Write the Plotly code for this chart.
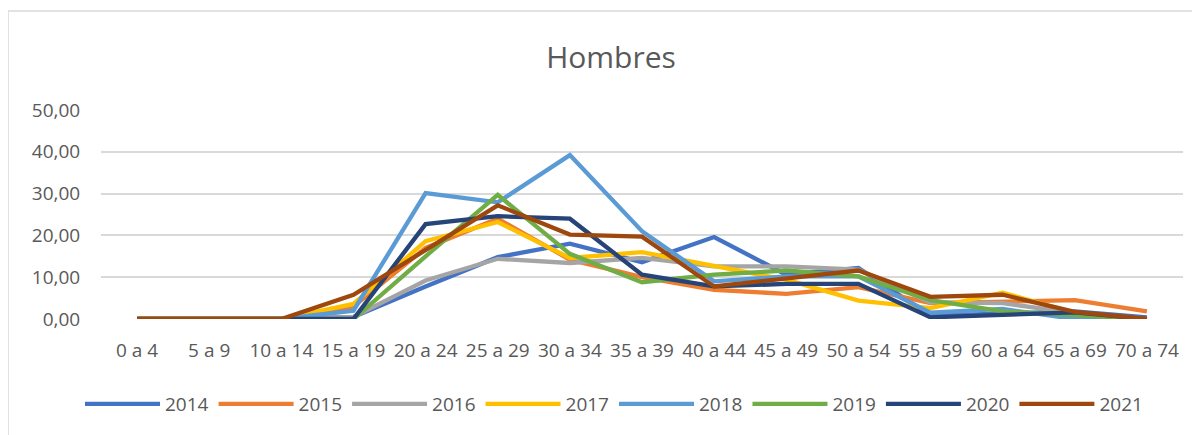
import plotly.graph_objects as go

categories = ["0 a 4", "5 a 9", "10 a 14", "15 a 19", "20 a 24", "25 a 29", "30 a 34",
              "35 a 39", "40 a 44", "45 a 49", "50 a 54", "55 a 59", "60 a 64",
              "65 a 69", "70 a 74"]

y2014 = [0, 0, 0, 0.5, 7.8, 14.8, 18.0, 13.6, 19.6, 10.6, 12.2, 0.8, 1.4, 1.8, 0.4]
y2015 = [0, 0, 0, 3.0, 17.0, 24.0, 14.2, 10.0, 7.0, 6.0, 7.6, 3.8, 4.2, 4.5, 1.8]
y2016 = [0, 0, 0, 0.5, 9.2, 14.4, 13.4, 14.6, 12.6, 12.6, 11.8, 4.0, 3.8, 1.4, 0]
y2017 = [0, 0, 0, 3.6, 18.6, 23.2, 14.6, 16.0, 12.8, 9.4, 4.4, 2.6, 6.3, 1.5, 0]
y2018 = [0, 0, 0, 2.0, 30.1, 27.9, 39.2, 21.0, 9.0, 10.2, 10.2, 1.5, 2.4, 0, 0]
y2019 = [0, 0, 0, 0, 15.0, 29.7, 15.6, 8.8, 10.6, 11.6, 10.2, 4.5, 1.8, 0.8, 0]
y2020 = [0, 0, 0, 0, 22.7, 24.6, 24.0, 10.6, 7.8, 8.4, 8.4, 0.4, 1.0, 1.6, 0]
y2021 = [0, 0, 0, 5.8, 16.4, 27.2, 20.2, 19.7, 7.8, 9.6, 11.6, 5.3, 5.8, 1.7, 0]

series_names = ["2014", "2015", "2016", "2017", "2018", "2019", "2020", "2021"]
series_values = [y2014, y2015, y2016, y2017, y2018, y2019, y2020, y2021]
colors = ["#4472C4", "#ED7D31", "#A5A5A5", "#FFC000", "#5B9BD5", "#70AD47", "#264478", "#9E480E"]

y_ticks = [0, 10, 20, 30, 40, 50]
y_tick_labels = ["0,00", "10,00", "20,00", "30,00", "40,00", "50,00"]

FONT = "Open Sans"
TXT = "#595959"

fig = go.Figure()
for name, vals, col in zip(series_names, series_values, colors):
    fig.add_trace(go.Scatter(x=list(range(len(categories))), y=vals, name=name,
                             mode="lines", line=dict(color=col, width=4.3),
                             hoverinfo="skip"))

# page body has an 8px margin, so the figure is drawn offset by (8, 8)
OFF = 8
W, H = 1200 - OFF, 435 - OFF
L, R = 101 - OFF, 1200 - 1183
T, B = 110 - OFF, H - (319 - OFF)
pw, ph = W - L - R, H - T - B

def px_x(p):  # page pixel -> paper x
    return (p - OFF - L) / pw

def px_y(p):  # page pixel -> paper y
    return (319 - p) / ph

fig.update_layout(
    width=W, height=H,
    margin=dict(l=L, r=R, t=T, b=B),
    paper_bgcolor="white", plot_bgcolor="white",
    font=dict(family=FONT, color=TXT, size=19),
    title=dict(text="Hombres", x=(611 - OFF) / W, xref="container", xanchor="center",
               y=1 - (57 - OFF) / H, yref="container", yanchor="middle",
               font=dict(family=FONT, size=30, color=TXT)),
    xaxis=dict(range=[-0.5, len(categories) - 0.5], tickmode="array",
               tickvals=list(range(len(categories))), ticktext=categories,
               tickangle=0, showgrid=False, zeroline=False, showline=False,
               ticks="outside", ticklen=14, tickcolor="rgba(0,0,0,0)",
               tickfont=dict(family=FONT, size=19, color=TXT)),
    yaxis=dict(range=[0, 50], tickmode="array", tickvals=y_ticks, ticktext=y_tick_labels,
               showgrid=True, gridcolor="#D9D9D9", gridwidth=1.5, zeroline=False,
               showline=False, ticks="outside", ticklen=16, tickcolor="rgba(0,0,0,0)",
               tickfont=dict(family=FONT, size=19, color=TXT)),
    legend=dict(orientation="h", x=px_x(614), xanchor="center", y=px_y(404),
                yanchor="middle", font=dict(family=FONT, size=19, color=TXT),
                itemwidth=75, traceorder="normal", tracegroupgap=0),
    showlegend=True,
    shapes=[dict(type="rect", xref="paper", yref="paper",
                 x0=px_x(8), x1=px_x(1215),
                 y0=px_y(450), y1=px_y(11),
                 line=dict(color="#D9D9D9", width=1.5), fillcolor="rgba(0,0,0,0)",
                 layer="below")],
)

fig.write_html("out.html")
